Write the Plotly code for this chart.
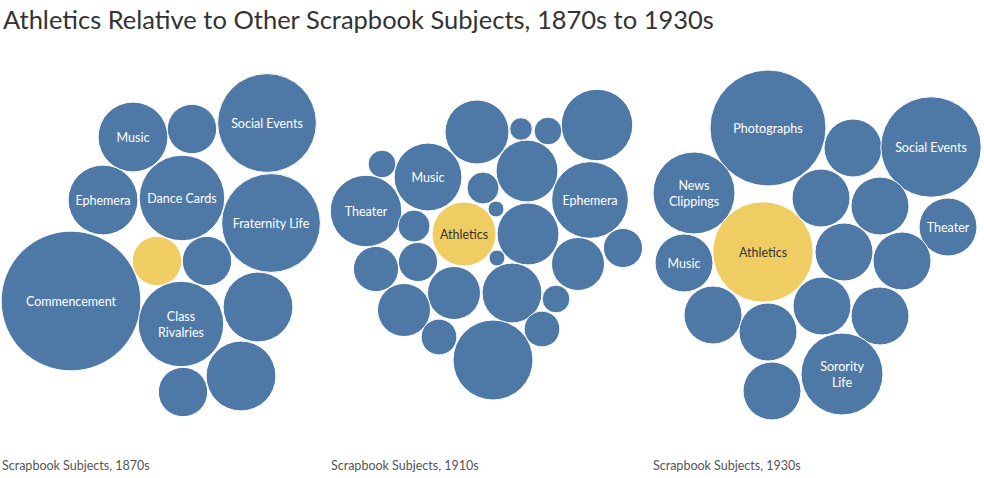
import plotly.graph_objects as go
import math

# ---------------- data ----------------
decades = ["1870s", "1910s", "1930s"]

subjects_1870s = ["Music", "", "Social Events", "Ephemera", "Dance Cards", "Fraternity Life",
                  "Athletics", "", "Commencement", "Class<br>Rivalries", "", "", ""]
counts_1870s = [2, 1, 4, 2, 3, 4, 1, 1, 8, 3, 2, 1, 2]

subjects_1910s = ["", "", "", "", "", "Music", "", "", "Ephemera", "Theater", "", "",
                  "Athletics", "", "", "", "", "", "", "", "", "", "", "", "", ""]
counts_1910s = [16, 2, 3, 20, 3, 18, 15, 4, 23, 20, 1, 4, 16, 15, 1, 6, 11, 8, 6, 11,
                14, 3, 11, 5, 5, 25]

subjects_1930s = ["Photographs", "", "Social Events", "News<br>Clippings", "", "", "Theater",
                  "Athletics", "Music", "", "", "", "", "", "", "Sorority<br>Life", ""]
counts_1930s = [4, 1, 3, 2, 1, 1, 1, 3, 1, 1, 1, 1, 1, 1, 1, 2, 1]

# labels not printed on the bubbles in the original
hide_label_1870s = ["Athletics"]

# ---------------- layout (packing positions, pixel space) ----------------
pos_1870s = [(133, 137), (192, 129), (267, 123), (103, 200), (182, 198), (271, 223),
             (157, 261), (207, 261), (71, 301), (181, 324), (258, 307), (183, 392), (241, 376)]
pos_1910s = [(477, 132), (521, 129), (548, 131), (597, 125), (382, 164), (428, 177),
             (527, 171), (483, 188), (590, 200), (366, 211), (496, 209), (414, 226),
             (464, 234), (528, 234), (497, 258), (623, 248), (578, 264), (376, 269),
             (418, 262), (454, 293), (512, 293), (556, 299), (404, 310), (439, 337),
             (542, 329), (493, 360)]
pos_1930s = [(768, 128), (853, 148), (931, 147), (694, 193), (821, 198), (880, 206),
             (948, 227), (763, 252), (684, 263), (844, 252), (902, 261), (713, 315),
             (768, 332), (822, 306), (880, 316), (842, 374), (772, 391)]
unit_radius = [24.7, 8.0, 29.0]
caption_x = [0, 329, 651]
label_dy = 2

BLUE = "#4e79a7"
YELLOW = "#f0cd62"

fig = go.Figure()
shapes = []
lx, ly, lt, lc = [], [], [], []

panels = [(subjects_1870s, counts_1870s, pos_1870s, hide_label_1870s),
          (subjects_1910s, counts_1910s, pos_1910s, []),
          (subjects_1930s, counts_1930s, pos_1930s, [])]

for (subs, cnts, poss, hide), ur in zip(panels, unit_radius):
    for s, c, (cx, cy) in zip(subs, cnts, poss):
        r = ur * math.sqrt(c)
        col = YELLOW if s == "Athletics" else BLUE
        shapes.append(dict(type="circle", xref="x", yref="y",
                           x0=cx - r, x1=cx + r, y0=cy - r, y1=cy + r,
                           fillcolor=col, line=dict(color="white", width=1), layer="below"))
        if s and s not in hide:
            lx.append(cx); ly.append(cy + label_dy); lt.append(s)
            lc.append("#333333" if s == "Athletics" else "white")

fig.add_trace(go.Scatter(x=lx, y=ly, text=lt, mode="text", textposition="middle center",
                         textfont=dict(family="Lato", size=12.5, color=lc),
                         hoverinfo="skip", showlegend=False))

annotations = [dict(text="Athletics Relative to Other Scrapbook Subjects, 1870s to 1930s",
                    x=1, y=19, xref="x", yref="y", xanchor="left", yanchor="middle",
                    showarrow=False, font=dict(family="Lato", size=25.5, color="#333333"))]
for label_x, d in zip(caption_x, decades):
    annotations.append(dict(text=f"Scrapbook Subjects, {d}", x=label_x / 984, y=465,
                            xref="paper", yref="y", xanchor="left", yanchor="middle",
                            showarrow=False,
                            font=dict(family="Lato", size=12.5, color="#555555")))

fig.update_layout(
    width=984, height=478,
    margin=dict(l=0, r=0, t=0, b=0),
    paper_bgcolor="white", plot_bgcolor="white",
    shapes=shapes, annotations=annotations,
    xaxis=dict(range=[0, 984], visible=False, fixedrange=True),
    yaxis=dict(range=[478, 0], visible=False, fixedrange=True),
    showlegend=False,
)

fig.write_html("out.html", config={"displayModeBar": False},
               post_script="document.body.style.margin='0';document.body.style.overflow='hidden';")
